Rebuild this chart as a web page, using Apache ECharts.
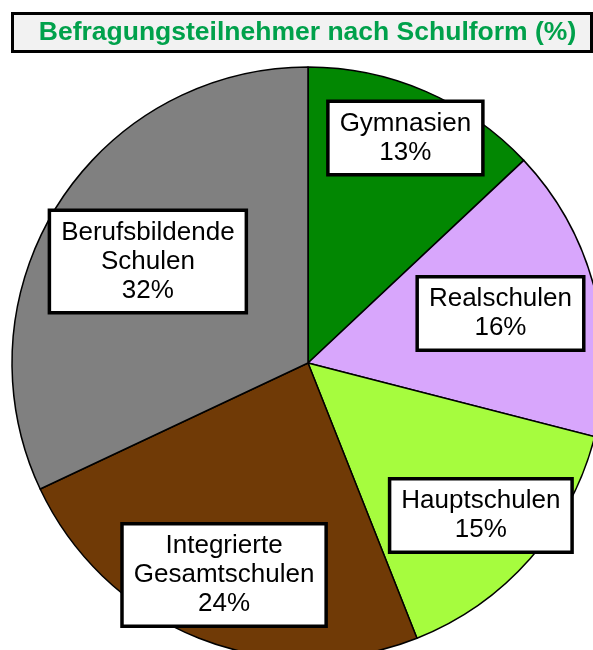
<!DOCTYPE html>
<html>
<head>
<meta charset="utf-8">
<script src="https://cdn.jsdelivr.net/npm/echarts@6/dist/echarts.min.js"></script>
<style>
html,body{margin:0;padding:0;background:#fff;}
#chart{width:593px;height:650px;}
</style>
</head>
<body>
<div id="chart"></div>
<script>
const titleText = 'Befragungsteilnehmer nach Schulform (%)';
const categories = ['Gymnasien', 'Realschulen', 'Hauptschulen', 'Integrierte\nGesamtschulen', 'Berufsbildende\nSchulen'];
const values = [13, 16, 15, 24, 32];
const colors = ['#028702', '#d8a6fc', '#a6fc3e', '#703a06', '#808080'];
// label distance from centre as a fraction of the radius
const labelRadius = [0.812, 0.658, 0.763, 0.755, 0.628];

const center = [308, 363];
const radius = 296;

const chart = echarts.init(document.getElementById('chart'), null, {renderer: 'canvas'});
chart.setOption({
  backgroundColor: '#ffffff',
  animation: false,
  graphic: [
    {
      type: 'rect',
      shape: {x: 12.5, y: 13.5, width: 579, height: 38},
      style: {fill: '#f2f2f2', stroke: '#000', lineWidth: 3},
      z: 10
    },
    {
      type: 'text',
      x: 307.5, y: 33,
      style: {
        text: titleText,
        fill: '#00a14b',
        font: 'bold 26.5px "Liberation Sans", Arial, sans-serif',
        textAlign: 'center',
        textVerticalAlign: 'middle'
      },
      z: 11
    }
  ],
  series: [{
    type: 'pie',
    center: center,
    radius: radius,
    startAngle: 90,
    clockwise: true,
    avoidLabelOverlap: false,
    data: categories.map((c, i) => ({name: c, value: values[i], itemStyle: {color: colors[i]}})),
    itemStyle: {borderColor: '#000', borderWidth: 1.5},
    emphasis: {disabled: true},
    labelLine: {show: false},
    label: {
      show: true,
      position: 'inside',
      formatter: '{b}\n{c}%',
      color: '#000',
      fontFamily: '"Liberation Sans", Arial, sans-serif',
      fontSize: 26,
      lineHeight: 29,
      align: 'center',
      backgroundColor: '#fff',
      borderColor: '#000',
      borderWidth: 3.5,
      padding: [6, 10, 6, 10]
    },
    labelLayout: function (params) {
      const i = params.dataIndex;
      const r = params.labelRect;
      const lx = r.x + r.width / 2, ly = r.y + r.height / 2;
      const k = labelRadius[i] / 0.5;
      return {dx: (lx - center[0]) * (k - 1), dy: (ly - center[1]) * (k - 1)};
    }
  }]
});
</script>
</body>
</html>
